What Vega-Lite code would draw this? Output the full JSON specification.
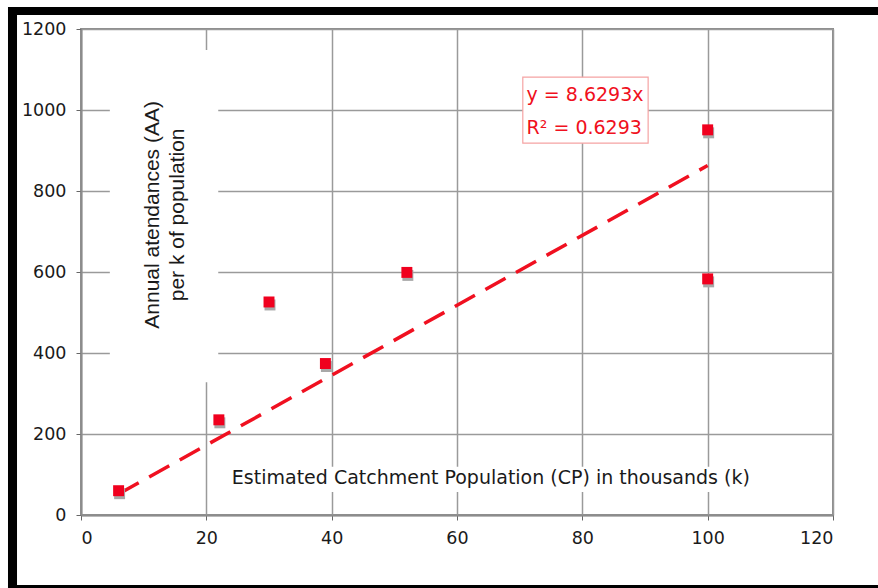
{
  "$schema": "https://vega.github.io/schema/vega-lite/v6.json",
  "width": 752,
  "height": 486,
  "autosize": {"type": "none"},
  "padding": {"left": 81, "top": 29, "right": 45, "bottom": 73},
  "background": "white",
  "config": {
    "view": {"stroke": "#8c8c8c", "strokeWidth": 2},
    "axis": {
      "gridColor": "#9a9a9a", "gridWidth": 1.5, "gridOpacity": 1,
      "domainColor": "#8c8c8c", "domainWidth": 2,
      "tickColor": "#666", "tickSize": 5,
      "labelFont": "DejaVu Sans", "labelFontSize": 17.5, "labelColor": "#1a1a1a",
      "format": "d",
      "title": null
    }
  },
  "datasets": {
    "points": [
      {"cp": 6, "aa": 60},
      {"cp": 22, "aa": 235},
      {"cp": 30, "aa": 526},
      {"cp": 39, "aa": 374},
      {"cp": 52, "aa": 599},
      {"cp": 100, "aa": 951},
      {"cp": 100, "aa": 583}
    ],
    "trend": [
      {"cp": 6, "aa": 51.78},
      {"cp": 100, "aa": 862.93}
    ],
    "masks": [
      {"x1": 4.6, "x2": 21.9, "y1": 328, "y2": 1148},
      {"x1": 23, "x2": 108, "y1": 57, "y2": 119}
    ],
    "box": [
      {"x1": 70.5, "x2": 90.5, "y1": 918, "y2": 1081}
    ],
    "labels": [
      {"cp": 71.1, "aa": 1037, "t": "y = 8.6293x"},
      {"cp": 71.1, "aa": 955, "t": "R² = 0.6293"}
    ]
  },
  "layer": [
    {
      "data": {"name": "masks"},
      "mark": {"type": "rect", "fill": "white", "stroke": null},
      "encoding": {
        "x": {"field": "x1", "type": "quantitative", "scale": {"domain": [0, 120], "nice": false}, "axis": {"values": [0, 20, 40, 60, 80, 100, 120], "labelPadding": 9}},
        "x2": {"field": "x2"},
        "y": {"field": "y1", "type": "quantitative", "scale": {"domain": [0, 1200], "nice": false}, "axis": {"values": [0, 200, 400, 600, 800, 1000, 1200], "labelPadding": 10}},
        "y2": {"field": "y2"}
      }
    },
    {
      "data": {"name": "box"},
      "mark": {"type": "rect", "fill": "white", "stroke": "#f5a3a3", "strokeWidth": 1.2},
      "encoding": {
        "x": {"field": "x1", "type": "quantitative"},
        "x2": {"field": "x2"},
        "y": {"field": "y1", "type": "quantitative"},
        "y2": {"field": "y2"}
      }
    },
    {
      "data": {"name": "trend"},
      "mark": {"type": "line", "color": "#f01020", "strokeWidth": 3.5, "strokeDash": [23, 12]},
      "encoding": {
        "x": {"field": "cp", "type": "quantitative"},
        "y": {"field": "aa", "type": "quantitative"}
      }
    },
    {
      "data": {"name": "points"},
      "mark": {"type": "square", "color": "#a8a8a8", "opacity": 1, "size": 120, "yOffset": 3, "xOffset": 1},
      "encoding": {
        "x": {"field": "cp", "type": "quantitative"},
        "y": {"field": "aa", "type": "quantitative"}
      }
    },
    {
      "data": {"name": "points"},
      "mark": {"type": "square", "color": "#f0001e", "opacity": 1, "size": 120},
      "encoding": {
        "x": {"field": "cp", "type": "quantitative"},
        "y": {"field": "aa", "type": "quantitative"}
      }
    },
    {
      "data": {"name": "labels"},
      "mark": {"type": "text", "align": "left", "baseline": "middle", "font": "DejaVu Sans", "fontSize": 19, "color": "#f01020"},
      "encoding": {
        "x": {"field": "cp", "type": "quantitative"},
        "y": {"field": "aa", "type": "quantitative"},
        "text": {"field": "t"}
      }
    },
    {
      "data": {"values": [{"cp": 11.5, "aa": 741, "t": ["Annual atendances (AA)", "per k of population"]}]},
      "mark": {"type": "text", "angle": 270, "align": "center", "baseline": "middle", "font": "Liberation Sans", "fontSize": 21, "lineHeight": 25, "color": "#1a1a1a"},
      "encoding": {
        "x": {"field": "cp", "type": "quantitative"},
        "y": {"field": "aa", "type": "quantitative"},
        "text": {"field": "t"}
      }
    },
    {
      "data": {"values": [{"cp": 65.4, "aa": 91, "t": "Estimated Catchment Population (CP) in thousands (k)"}]},
      "mark": {"type": "text", "align": "center", "baseline": "middle", "font": "DejaVu Sans", "fontSize": 19, "color": "#1a1a1a"},
      "encoding": {
        "x": {"field": "cp", "type": "quantitative"},
        "y": {"field": "aa", "type": "quantitative"},
        "text": {"field": "t"}
      }
    },
    {
      "data": {"values": [{}]},
      "mark": {"type": "rect", "fill": "black", "clip": false},
      "encoding": {
        "x": {"datum": -11.65, "type": "quantitative"},
        "x2": {"datum": -10.21},
        "y": {"datum": 1254.3, "type": "quantitative"},
        "y2": {"datum": -181}
      }
    },
    {
      "data": {"values": [{}]},
      "mark": {"type": "rect", "fill": "black", "clip": false},
      "encoding": {
        "x": {"datum": -11.65, "type": "quantitative"},
        "x2": {"datum": 127.2},
        "y": {"datum": 1254.3, "type": "quantitative"},
        "y2": {"datum": 1234.6}
      }
    },
    {
      "data": {"values": [{}]},
      "mark": {"type": "rect", "fill": "black", "clip": false},
      "encoding": {
        "x": {"datum": -11.65, "type": "quantitative"},
        "x2": {"datum": 127.2},
        "y": {"datum": -172.8, "type": "quantitative"},
        "y2": {"datum": -181}
      }
    }
  ]
}
